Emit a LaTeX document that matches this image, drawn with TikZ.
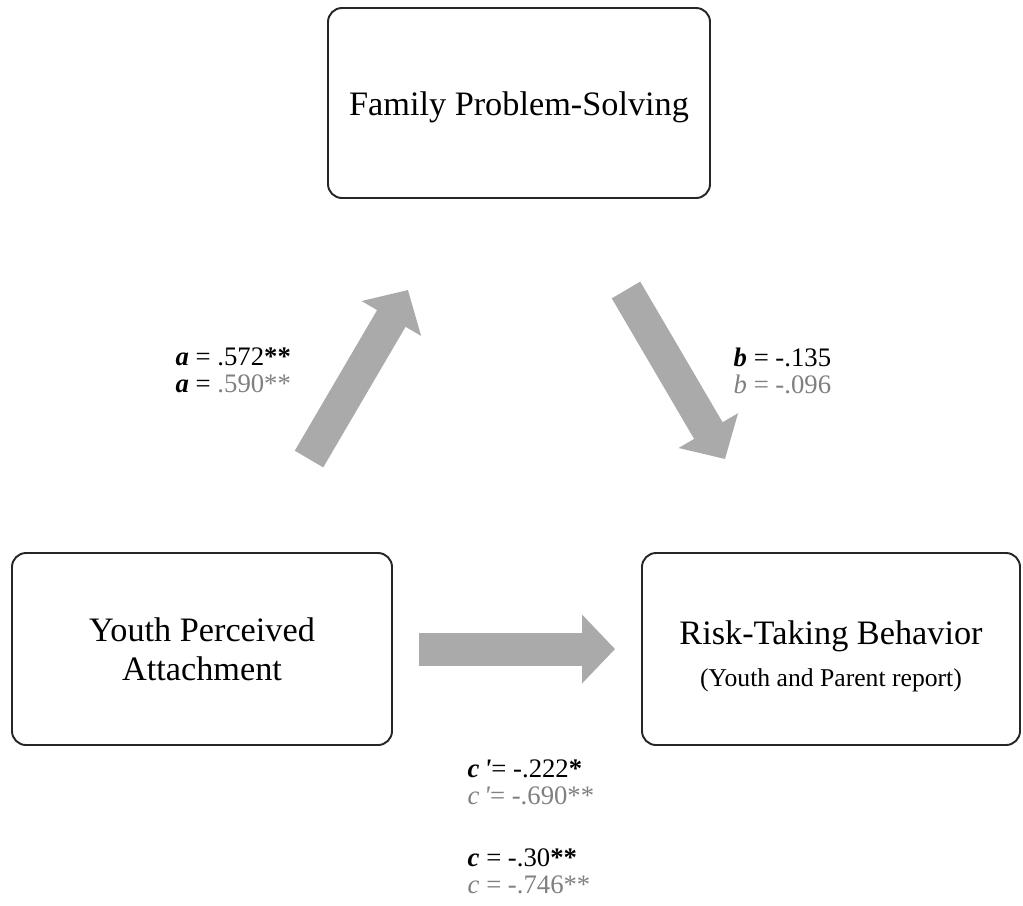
\documentclass[tikz,border=0pt]{standalone}
\usepackage{fontspec}
\setmainfont{Liberation Serif}
\usepackage{tikz}
\usetikzlibrary{arrows.meta}
\definecolor{arrowgrey}{HTML}{AAAAAA}
\definecolor{textgrey}{HTML}{808080}
\tikzset{
  varbox/.style = {draw=black!85, line width=0.55pt, rounded corners=0.14cm,
    align=center, font=\fontsize{9.75}{11}\selectfont},
  blockarrow/.style = {draw=arrowgrey, line width=0.33cm,
    -{Triangle[length=0.33cm, width=0.67cm]}},
  pathlabel/.style = {anchor=west, align=left, inner sep=0pt,
    font=\fontsize{7.6}{7.7}\selectfont}
}

\begin{document}
\begin{tikzpicture}
        \useasboundingbox (0,0) rectangle (10.23,9.05);
        % the three variables
        \node[varbox, minimum width=3.82cm, minimum height=1.90cm] (family) at (5.19,8.02) {\rule{0pt}{9pt}Family Problem-Solving};
        \node[varbox, minimum width=3.80cm, minimum height=1.92cm] (youth) at (2.02,2.56) {Youth Perceived\\Attachment};
        \node[varbox, minimum width=3.78cm, minimum height=1.92cm] (risk) at (8.31,2.56) {\rule{0pt}{10.7pt}Risk-Taking Behavior\\[0.2ex]{\fontsize{7.3}{8}\selectfont (Youth and Parent report)}};
        % paths
        \draw[blockarrow] ([shift={(1.07,0.93)}]youth.north) -- ([shift={(-1.11,-0.91)}]family.south);
        \draw[blockarrow] ([shift={(1.07,-0.91)}]family.south) -- ([shift={(-1.06,0.93)}]risk.north);
        \draw[blockarrow] ([xshift=0.26cm]youth.east) -- ([xshift=-0.26cm]risk.west);
        % coefficients
        \node[pathlabel] (apath) at (1.75,5.345) {\textbf{\textit{a}} = .572\textbf{**}\\\textbf{\textit{a}} = \textcolor{textgrey}{.590**}};
        \node[pathlabel] (bpath) at (7.33,5.345) {\textbf{\textit{b}} = -.135\\\textcolor{textgrey}{\textit{b} = -.096}};
        \node[pathlabel] (cprime) at (4.67,1.225) {\textbf{\textit{c}}\,\textbf{\textit{\textquotesingle}}= -.222\textbf{*}\\\textcolor{textgrey}{\textit{c}\,\textit{\textquotesingle}= -.690**}};
        \node[pathlabel] (ctotal) at (4.67,0.34) {\textbf{\textit{c}} = -.30\textbf{**}\\\textcolor{textgrey}{\textit{c} = -.746**}};
    \end{tikzpicture}
\end{document}
